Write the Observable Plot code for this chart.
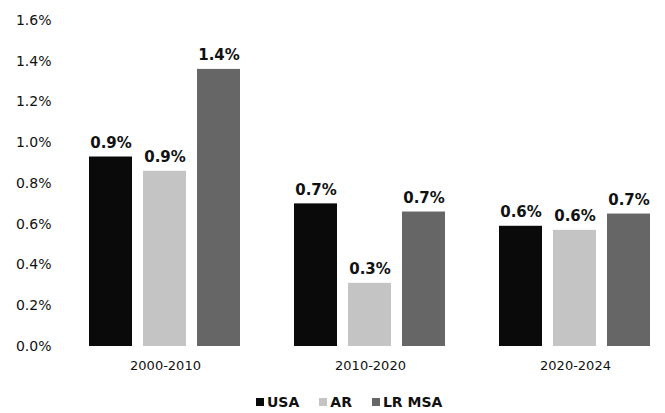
<!DOCTYPE html>
<html>
<head>
<meta charset="utf-8">
<script src="https://cdn.jsdelivr.net/npm/d3@7"></script>
<script src="https://cdn.jsdelivr.net/npm/@observablehq/plot@0.6"></script>
<style>
  body { margin: 0; background: #fff; font-family: "DejaVu Sans", sans-serif; }
  #legend { display: flex; align-items: center; padding-left: 256px; margin-top: 8px; height: 18px; font-size: 14px; font-weight: bold; color: #111; }
  #legend .item { display: flex; align-items: center; margin-right: 20px; }
  #legend .sw { width: 8px; height: 8px; margin-right: 3px; }
</style>
</head>
<body>
<div id="chart"></div>
<div id="legend"></div>
<script>
const periods = ["2000-2010", "2010-2020", "2020-2024"];
const series = ["USA", "AR", "LR MSA"];
const usa = [0.93, 0.70, 0.59];
const ar = [0.86, 0.31, 0.57];
const lrMsa = [1.36, 0.66, 0.65];
const colors = ["#0a0a0a", "#c4c4c4", "#666666"];
const yTicks = [0, 0.2, 0.4, 0.6, 0.8, 1.0, 1.2, 1.4, 1.6];

const values = [usa, ar, lrMsa];
const data = [];
periods.forEach((p, i) => series.forEach((s, j) => data.push({period: p, series: s, value: values[j][i]})));
const pct = d => d.toFixed(1) + "%";

const chart = Plot.plot({
  width: 665,
  height: 385,
  marginLeft: 88,
  marginRight: 14,
  marginTop: 20,
  marginBottom: 39,
  style: {fontFamily: "DejaVu Sans, sans-serif", color: "#111", background: "#fff"},
  fx: {domain: periods, paddingInner: 0.26, paddingOuter: 0, label: null},
  x: {domain: series, paddingInner: 0.2, paddingOuter: 0, axis: null},
  y: {domain: [0, 1.6], label: null},
  color: {domain: series, range: colors},
  marks: [
    Plot.axisY({ticks: yTicks, tickFormat: pct, tickSize: 0, tickPadding: 38, label: null, fontSize: 14}),
    Plot.barY(data, {fx: "period", x: "series", y: "value", fill: "series"}),
    Plot.text(data, {fx: "period", x: "series", y: "value", text: d => pct(d.value), lineAnchor: "bottom", dy: -9, fontWeight: "bold", fontSize: 15, fill: "#111"}),
    Plot.axisFx({anchor: "bottom", tickSize: 0, tickPadding: 14, label: null, fontSize: 13})
  ]
});
document.getElementById("chart").appendChild(chart);

const legend = document.getElementById("legend");
series.forEach((s, j) => {
  const item = document.createElement("div");
  item.className = "item";
  const sw = document.createElement("span");
  sw.className = "sw";
  sw.style.background = colors[j];
  item.appendChild(sw);
  item.appendChild(document.createTextNode(s));
  legend.appendChild(item);
});
</script>
</body>
</html>
